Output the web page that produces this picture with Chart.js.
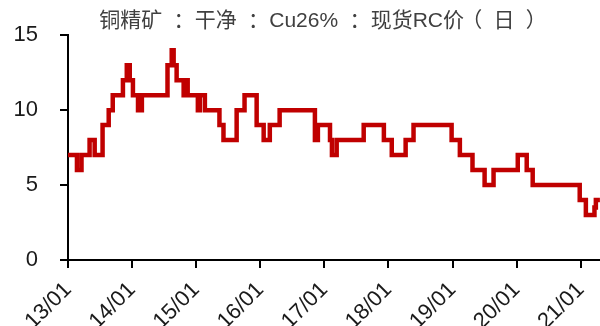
<!DOCTYPE html>
<html>
<head>
<meta charset="utf-8">
<script src="https://cdn.jsdelivr.net/npm/chart.js@4.4.1/dist/chart.umd.min.js"></script>
<style>
  html, body { margin: 0; padding: 0; background: #ffffff; }
  canvas { display: block; }
</style>
</head>
<body>
<canvas id="rc" width="600" height="326"></canvas>
<script>
// Copper concentrate (clean, Cu26%) spot RC, daily — dates where the quote changes
const chartTitle = '铜精矿：干净：Cu26%：现货RC价（日）';

const changeDates = [
  '2013-01-01', '2013-02-21', '2013-03-19', '2013-05-04', '2013-06-02',
  '2013-07-17', '2013-08-21', '2013-09-13', '2013-11-10', '2013-12-02',
  '2013-12-19', '2014-01-06', '2014-02-04', '2014-02-26', '2014-07-22',
  '2014-08-15', '2014-08-26', '2014-09-12', '2014-10-22', '2014-11-03',
  '2014-11-14', '2015-01-11', '2015-01-22', '2015-02-20', '2015-05-14',
  '2015-06-06', '2015-08-20', '2015-10-04', '2015-12-12', '2016-01-21',
  '2016-02-25', '2016-04-21', '2016-11-08', '2016-11-25', '2017-02-02',
  '2017-02-13', '2017-03-12', '2017-08-13', '2017-12-06', '2018-01-20',
  '2018-04-09', '2018-05-24', '2018-12-27', '2019-02-12', '2019-04-25',
  '2019-07-03', '2019-08-23', '2020-01-08', '2020-02-28', '2020-04-02',
  '2020-12-26', '2021-01-30', '2021-03-20', '2021-03-28', '2021-04-20'
];

const rcValues = [
  7, 6, 7, 8, 7,
  9, 10, 11, 12, 13,
  12, 11, 10, 11, 13,
  14, 13, 12, 11, 12,
  11, 10, 11, 10, 9,
  8, 10, 11, 9, 8,
  9, 10, 8, 9, 8,
  7, 8, 9, 8, 7,
  8, 9, 8, 7, 6,
  5, 6, 7, 6, 5,
  4, 3, 3.5, 4, 4
];

const yearTickLabels = ['13/01', '14/01', '15/01', '16/01', '17/01', '18/01', '19/01', '20/01', '21/01'];
const valueTicks = [0, 5, 10, 15];

// x position: years elapsed since 2013-01-01
const origin = Date.parse('2013-01-01T00:00:00Z');
const toYears = d => (Date.parse(d + 'T00:00:00Z') - origin) / (365.25 * 864e5);
const points = changeDates.map((d, i) => ({ x: toYears(d), y: rcValues[i] }));

// Title drawn glyph by glyph: full-width punctuation gets a roomy cell with its ink centred
const titlePlugin = {
  id: 'topTitle',
  afterDraw(chart) {
    const ctx = chart.ctx;
    const size = 21;
    const wide = { '：': 1.55, '（': 1.4, '）': 1.4 };
    ctx.save();
    ctx.font = size + 'px "Liberation Sans", "Noto Sans CJK SC", sans-serif';
    ctx.fillStyle = '#404040';
    ctx.textBaseline = 'middle';
    ctx.textAlign = 'left';
    const chars = Array.from(chartTitle);
    const advances = chars.map(ch => wide[ch] ? wide[ch] * size : ctx.measureText(ch).width);
    const total = advances.reduce((a, b) => a + b, 0);
    let x = 321.5 - total / 2;
    chars.forEach((ch, i) => {
      if (wide[ch]) {
        const m = ctx.measureText(ch);
        const inkMid = (m.actualBoundingBoxRight - m.actualBoundingBoxLeft) / 2;
        ctx.fillText(ch, x + advances[i] / 2 - inkMid, 21);
      } else {
        ctx.fillText(ch, x, 21);
      }
      x += advances[i];
    });
    ctx.restore();
  }
};

const axisColor = '#000000';
const tickFont = { family: '"Liberation Sans", Arial, sans-serif', size: 22 };

new Chart(document.getElementById('rc'), {
  type: 'line',
  data: {
    datasets: [{
      data: points,
      borderColor: '#C00000',
      borderWidth: 4.5,
      pointRadius: 0,
      stepped: true,
      fill: false
    }]
  },
  options: {
    responsive: false,
    animation: false,
    layout: { padding: { top: 19, right: 0, left: 0, bottom: 0 } },
    plugins: { legend: { display: false }, tooltip: { enabled: false } },
    scales: {
      x: {
        type: 'linear',
        min: 0,
        max: 8.3,
        afterBuildTicks(scale) {
          scale.ticks = yearTickLabels.map((_, i) => ({ value: i }));
        },
        afterFit(scale) {
          scale.height = 66;
          scale.paddingLeft = 0;
          scale.paddingRight = 0;
        },
        border: { display: true, color: axisColor, width: 2 },
        grid: { display: true, drawOnChartArea: false, drawTicks: true, tickLength: 8, color: axisColor, lineWidth: 2 },
        ticks: {
          autoSkip: false,
          maxRotation: 45,
          minRotation: 45,
          padding: 9,
          color: '#1a1a1a',
          font: tickFont,
          callback: v => yearTickLabels[v]
        }
      },
      y: {
        min: 0,
        max: 15,
        afterBuildTicks(scale) {
          scale.ticks = valueTicks.map(v => ({ value: v }));
        },
        afterFit(scale) {
          scale.width = 68;
        },
        border: { display: true, color: axisColor, width: 2 },
        grid: { display: true, drawOnChartArea: false, drawTicks: true, tickLength: 8, color: axisColor, lineWidth: 2 },
        ticks: {
          padding: 22,
          color: '#1a1a1a',
          font: tickFont
        }
      }
    }
  },
  plugins: [titlePlugin]
});
</script>
</body>
</html>
